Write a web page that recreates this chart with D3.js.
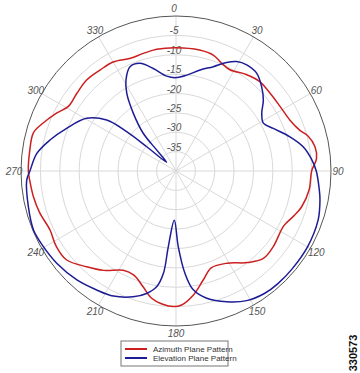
<!DOCTYPE html>
<html>
<head>
<meta charset="utf-8">
<script src="https://cdn.jsdelivr.net/npm/d3@7"></script>
<style>
  body { margin: 0; background: #fff; }
  svg { display: block; }
</style>
</head>
<body>
<div id="chart"></div>
<script>
// angle (deg, clockwise from north) / gain (dB) pairs
var azAngles = [0, 11, 18, 23, 28, 36, 43, 50, 58, 66, 72, 75, 80, 85, 90, 98, 106, 111, 117, 128, 135, 142, 151, 160, 166, 172, 177.6, 181, 186, 191, 196, 202, 208, 216, 223, 231, 238, 245, 253, 260, 266, 270, 278, 285, 290, 296, 301, 308, 315.5, 323, 330, 338, 344.5, 351];
var azGain = [-8.2, -8.2, -8.6, -9.8, -10.4, -9.2, -8.4, -8.5, -8.4, -7.8, -6.3, -4.8, -3.6, -3.6, -5.0, -5.3, -6.3, -7.5, -8.8, -8.2, -8.1, -10, -12.8, -13.4, -11, -7.7, -5.4, -5, -5.5, -6.6, -9, -11, -11, -8.3, -6.2, -3.6, -3.5, -4.1, -3.2, -2.6, -2.2, -1.9, -1.9, -1.9, -3.6, -5.8, -7.6, -7.5, -7.1, -7.4, -7.5, -8.6, -8.5, -8.2];

var elAngles = [0, 6.4, 13.4, 19.7, 25, 29, 33.7, 39.6, 45.5, 51, 56, 61.3, 66.3, 73.3, 79.2, 85, 90, 97.5, 101.4, 109, 120, 130, 138, 144, 151.4, 158.8, 166.4, 171.7, 175, 178.3, 182, 185.8, 187, 189.5, 193.5, 198.8, 206.6, 213.7, 222.3, 232.3, 240.3, 247.5, 256.4, 266.5, 270, 277.2, 283.8, 291.3, 300.5, 306.3, 308.6, 309.7, 313, 317.4, 319, 323.5, 327.6, 331.2, 336.2, 341.5, 347.5, 354.4];
var elGain = [-15.9, -15.1, -13.2, -11.4, -9.1, -7.7, -7.1, -7.3, -9, -11, -13.3, -14.3, -12.6, -9.3, -6.6, -4.9, -3.8, -2.7, -2.1, -1.2, -0.8, -0.8, -0.8, -1.0, -1.9, -3.8, -6.2, -9, -13.5, -20.5, -27.3, -20.4, -13.4, -9.7, -7.5, -5.7, -3.9, -3.1, -2, -1.1, -0.6, -0.2, -0.8, -1.4, -2.3, -3.8, -6.5, -9.7, -13.2, -17.8, -23.7, -30.2, -36.7, -32.6, -27.1, -21.5, -16.3, -13.2, -10.6, -10.7, -12.9, -15.4];

var ringTicks = [-35, -30, -25, -20, -15, -10, -5];
var angleTicks = [0, 30, 60, 90, 120, 150, 180, 210, 240, 270, 300, 330];
var seriesNames = ["Azimuth Plane Pattern", "Elevation Plane Pattern"];
var seriesColors = ["#cc2020", "#1c1c96"];

var width = 360, height = 373;
var cx = 176, cy = 171, R = 155;

var svg = d3.select("#chart").append("svg")
    .attr("width", width)
    .attr("height", height)
    .style("font-family", "'Liberation Sans', Arial, sans-serif");

var r = d3.scaleLinear().domain([-40, 0]).range([0, R]);
var rad = function (deg) { return deg * Math.PI / 180; };

var g = svg.append("g").attr("transform", "translate(" + cx + "," + cy + ")");

// grid rings
g.selectAll("circle.ring")
    .data(ringTicks)
    .enter().append("circle")
    .attr("class", "ring")
    .attr("r", function (d) { return r(d); })
    .attr("fill", "none")
    .attr("stroke", "#d9d9d9")
    .attr("stroke-width", 1);

// spokes
g.selectAll("line.spoke")
    .data(angleTicks)
    .enter().append("line")
    .attr("class", "spoke")
    .attr("x1", 0).attr("y1", 0)
    .attr("x2", function (d) { return R * Math.sin(rad(d)); })
    .attr("y2", function (d) { return -R * Math.cos(rad(d)); })
    .attr("stroke", "#d9d9d9")
    .attr("stroke-width", 1);

// outer ring
g.append("circle")
    .attr("r", r(0))
    .attr("fill", "none")
    .attr("stroke", "#555")
    .attr("stroke-width", 1);

// ring labels along the 0 spoke
g.selectAll("text.rlab")
    .data(ringTicks.concat([0]))
    .enter().append("text")
    .attr("class", "rlab")
    .attr("x", -2)
    .attr("y", function (d) { return d === 0 ? -r(d) - 4 : -r(d) - 1; })
    .attr("text-anchor", "middle")
    .attr("font-size", 10)
    .attr("font-style", "italic")
    .attr("fill", "#555")
    .text(function (d) { return d; });

// angle labels
g.selectAll("text.alab")
    .data(angleTicks.filter(function (d) { return d !== 0; }))
    .enter().append("text")
    .attr("class", "alab")
    .attr("x", function (d) { return 162 * Math.sin(rad(d)); })
    .attr("y", function (d) { return -162 * Math.cos(rad(d)); })
    .attr("dy", "0.35em")
    .attr("text-anchor", "middle")
    .attr("font-size", 10)
    .attr("font-style", "italic")
    .attr("fill", "#555")
    .text(function (d) { return d; });

var line = d3.lineRadial()
    .angle(function (d) { return rad(d[0]); })
    .radius(function (d) { return r(d[1]); })
    .curve(d3.curveCatmullRomClosed.alpha(0.5));

var series = [d3.zip(azAngles, azGain), d3.zip(elAngles, elGain)];

g.selectAll("path.series")
    .data(series)
    .enter().append("path")
    .attr("class", "series")
    .attr("d", line)
    .attr("fill", "none")
    .attr("stroke", function (d, i) { return seriesColors[i]; })
    .attr("stroke-width", 1.5);

// legend
var legend = svg.append("g").attr("transform", "translate(121,341)");
legend.append("rect")
    .attr("width", 107)
    .attr("height", 25)
    .attr("fill", "#fff")
    .attr("stroke", "#777")
    .attr("stroke-width", 1);
var items = legend.selectAll("g.item")
    .data(seriesNames)
    .enter().append("g")
    .attr("class", "item")
    .attr("transform", function (d, i) { return "translate(0," + (8 + i * 9) + ")"; });
items.append("line")
    .attr("x1", 4).attr("x2", 26)
    .attr("stroke", function (d, i) { return seriesColors[i]; })
    .attr("stroke-width", 2);
items.append("text")
    .attr("x", 32)
    .attr("dy", "0.35em")
    .attr("font-size", 8)
    .attr("fill", "#333")
    .text(function (d) { return d; });

// figure id
svg.append("text")
    .attr("transform", "translate(357,353) rotate(-90)")
    .attr("text-anchor", "middle")
    .attr("font-size", 11)
    .attr("font-weight", "bold")
    .attr("fill", "#111")
    .text("330573");
</script>
</body>
</html>
